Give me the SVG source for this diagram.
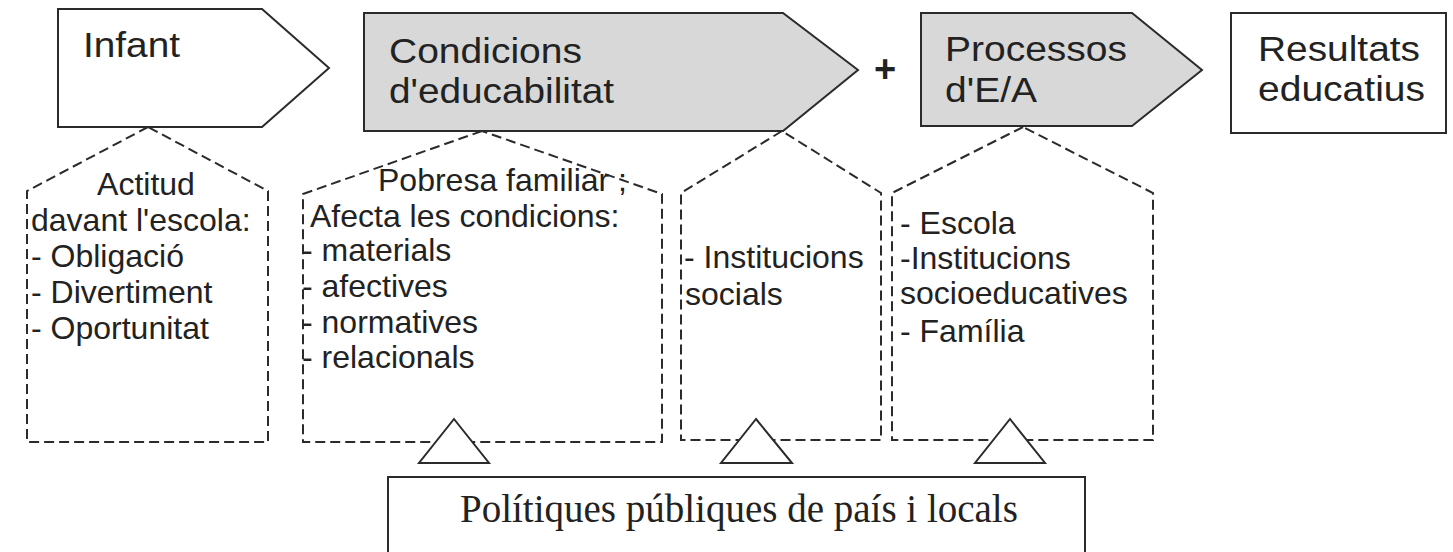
<svg xmlns="http://www.w3.org/2000/svg" width="1453" height="552" viewBox="0 0 1453 552">
<style>
.solid{stroke:#2b2b2b;stroke-width:2;stroke-linejoin:miter}
.white{fill:#ffffff}
.gray{fill:#d8d8d8}
.dash{fill:none;stroke:#2b2b2b;stroke-width:2;stroke-dasharray:10 5}
.big{font-family:"Liberation Sans",Arial,sans-serif;font-size:35px;fill:#222}
.sm{font-family:"Liberation Sans",Arial,sans-serif;font-size:32px;fill:#222}
.serif{font-family:"Liberation Serif","Times New Roman",serif;font-size:39px;fill:#222}
</style>
<rect x="0" y="0" width="1453" height="552" fill="#ffffff"/>
<g id="infant">
<path class="solid white" d="M58,9 L262,9 L329,68 L262,127 L58,127 Z"/>
<text class="big" x="83" y="57" textLength="97" lengthAdjust="spacingAndGlyphs">Infant</text>
</g>
<g id="condicions">
<path class="solid gray" d="M364,13 L783,13 L858,70 L783,131 L364,131 Z"/>
<text class="big" x="389" y="63" textLength="193" lengthAdjust="spacingAndGlyphs">Condicions</text>
<text class="big" x="389" y="103" textLength="225" lengthAdjust="spacingAndGlyphs">d'educabilitat</text>
</g>
<g id="plus">
<text x="885" y="82" text-anchor="middle" style="font-family:'Liberation Sans',Arial,sans-serif;font-size:38px;font-weight:bold;fill:#222">+</text>
</g>
<g id="processos">
<path class="solid gray" d="M921,13 L1132,13 L1202,70 L1132,126 L921,126 Z"/>
<text class="big" x="945" y="61" textLength="182" lengthAdjust="spacingAndGlyphs">Processos</text>
<text class="big" x="945" y="102" textLength="92" lengthAdjust="spacingAndGlyphs">d'E/A</text>
</g>
<g id="resultats">
<rect class="solid white" x="1231" y="13" width="215" height="120"/>
<text class="big" x="1258" y="61" textLength="162" lengthAdjust="spacingAndGlyphs">Resultats</text>
<text class="big" x="1258" y="101" textLength="167" lengthAdjust="spacingAndGlyphs">educatius</text>
</g>
<g id="actitud">
<path class="dash" d="M148,127 L27,191 L27,442 L268,442 L268,191 Z"/>
<text class="sm" x="146" y="195" text-anchor="middle">Actitud</text>
<text class="sm" x="31" y="231">davant l'escola:</text>
<text class="sm" x="31" y="267">- Obligació</text>
<text class="sm" x="31" y="303">- Divertiment</text>
<text class="sm" x="31" y="339">- Oportunitat</text>
</g>
<g id="pobresa">
<path class="dash" d="M482,131 L303,194 L303,442 L662,442 L662,194 Z"/>
<text class="sm" x="378" y="191">Pobresa familiar ;</text>
<text class="sm" x="310" y="227">Afecta les condicions:</text>
<text class="sm" x="302" y="261">- materials</text>
<text class="sm" x="302" y="297">- afectives</text>
<text class="sm" x="302" y="333">- normatives</text>
<text class="sm" x="302" y="368">- relacionals</text>
</g>
<g id="institucions">
<path class="dash" d="M782,131 L681,193 L681,440 L881,440 L881,193 Z"/>
<text class="sm" x="684" y="268">- Institucions</text>
<text class="sm" x="685" y="305">socials</text>
</g>
<g id="escola">
<path class="dash" d="M1023,127 L892,193 L892,440 L1153,440 L1153,193 Z"/>
<text class="sm" x="900" y="234">- Escola</text>
<text class="sm" x="900" y="269">-Institucions</text>
<text class="sm" x="900" y="304">socioeducatives</text>
<text class="sm" x="900" y="342">- Família</text>
</g>
<g id="politiques">
<rect class="solid white" x="388" y="477" width="697" height="90"/>
<text class="serif" x="460" y="522">Polítiques públiques de país i locals</text>
</g>
<g id="connectors">
<path class="solid white" d="M454,419 L489,463 L419,463 Z"/>
<path class="solid white" d="M756,419 L792,463 L721,463 Z"/>
<path class="solid white" d="M1010,419 L1045,463 L975,463 Z"/>
</g>
</svg>
